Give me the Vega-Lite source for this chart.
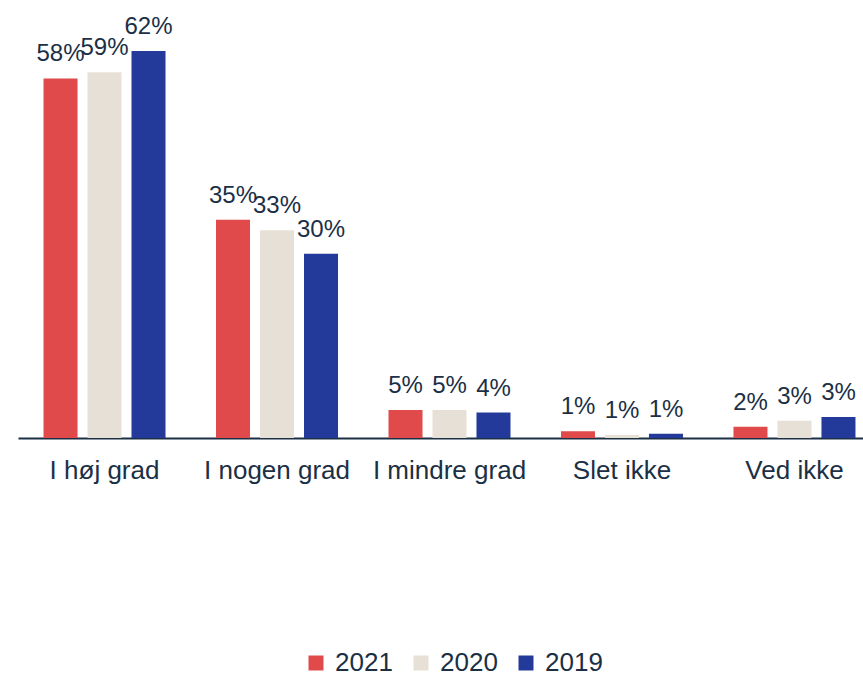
{
  "$schema": "https://vega.github.io/schema/vega-lite/v6.json",
  "autosize": {"type": "none"},
  "width": 863,
  "height": 434,
  "padding": {"left": 18, "top": 4, "right": 0, "bottom": 240},
  "background": "white",
  "config": {
    "view": {"stroke": null},
    "font": "Liberation Sans",
    "text": {"font": "Liberation Sans"}
  },
  "data": {
    "values": [
      {"category": "I høj grad", "year": "2021", "value": 58.0, "label": "58%"},
      {"category": "I høj grad", "year": "2020", "value": 59.0, "label": "59%"},
      {"category": "I høj grad", "year": "2019", "value": 62.4, "label": "62%"},
      {"category": "I nogen grad", "year": "2021", "value": 35.2, "label": "35%"},
      {"category": "I nogen grad", "year": "2020", "value": 33.5, "label": "33%"},
      {"category": "I nogen grad", "year": "2019", "value": 29.7, "label": "30%"},
      {"category": "I mindre grad", "year": "2021", "value": 4.5, "label": "5%"},
      {"category": "I mindre grad", "year": "2020", "value": 4.5, "label": "5%"},
      {"category": "I mindre grad", "year": "2019", "value": 4.1, "label": "4%"},
      {"category": "Slet ikke", "year": "2021", "value": 1.1, "label": "1%"},
      {"category": "Slet ikke", "year": "2020", "value": 0.5, "label": "1%"},
      {"category": "Slet ikke", "year": "2019", "value": 0.7, "label": "1%"},
      {"category": "Ved ikke", "year": "2021", "value": 1.8, "label": "2%"},
      {"category": "Ved ikke", "year": "2020", "value": 2.8, "label": "3%"},
      {"category": "Ved ikke", "year": "2019", "value": 3.4, "label": "3%"}
    ]
  },
  "encoding": {
    "x": {
      "field": "category",
      "type": "nominal",
      "sort": ["I høj grad", "I nogen grad", "I mindre grad", "Slet ikke", "Ved ikke"],
      "scale": {"paddingInner": 0.2928, "paddingOuter": 0.148},
      "axis": {
        "title": null,
        "labelAngle": 0,
        "labelFontSize": 26,
        "labelColor": "#1b2f45",
        "labelFont": "Liberation Sans",
        "ticks": false,
        "labelPadding": 19,
        "domainColor": "#1b2f45",
        "domainWidth": 2,
        "grid": false
      }
    },
    "xOffset": {
      "field": "year",
      "type": "nominal",
      "sort": ["2021", "2020", "2019"],
      "scale": {"paddingInner": 0.227, "paddingOuter": 0}
    },
    "y": {
      "field": "value",
      "type": "quantitative",
      "scale": {"domain": [0, 70], "nice": false},
      "axis": null
    }
  },
  "layer": [
    {
      "mark": {"type": "bar"},
      "encoding": {
        "color": {
          "field": "year",
          "type": "nominal",
          "sort": ["2021", "2020", "2019"],
          "scale": {"domain": ["2021", "2020", "2019"], "range": ["#E04A4A", "#E7E0D6", "#243A9B"]},
          "legend": {
            "title": null,
            "orient": "none",
            "legendX": 285,
            "legendY": 646,
            "direction": "horizontal",
            "symbolType": "square",
            "symbolSize": 225,
            "symbolStrokeWidth": 0,
            "labelFontSize": 26,
            "labelColor": "#1b2f45",
            "labelFont": "Liberation Sans",
            "labelOffset": 6,
            "columnPadding": 15
          }
        }
      }
    },
    {
      "mark": {"type": "text", "align": "center", "baseline": "alphabetic", "dy": -17, "fontSize": 24, "color": "#1b2f45", "font": "Liberation Sans"},
      "encoding": {
        "text": {"field": "label", "type": "nominal"}
      }
    }
  ]
}
